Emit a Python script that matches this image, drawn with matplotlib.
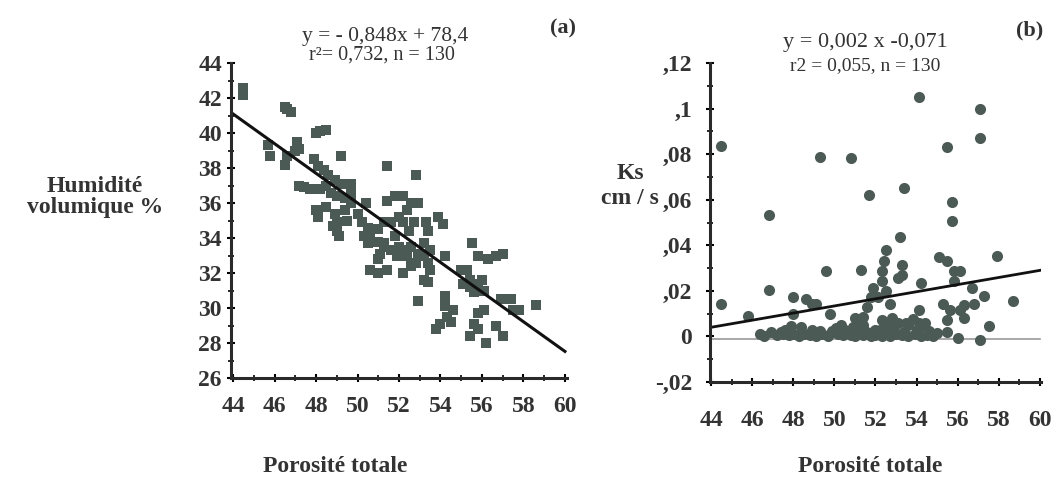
import matplotlib
matplotlib.use("Agg")
import matplotlib.pyplot as plt

plt.rcParams['font.family'] = ['Liberation Serif', 'DejaVu Serif']

# ---- panel (a): humidite volumique vs porosite totale
por_a = [44.5, 44.5, 46.5, 46.8, 46.6, 48.0, 48.5, 48.2, 47.1, 47.2, 45.8, 46.5, 46.6,
         49.2, 51.4, 52.8, 45.7, 47.0,
         47.9, 48.1, 48.4, 48.6, 48.9, 49.2, 49.7, 47.4, 47.7, 48.2, 48.7, 49.0, 49.4,
         49.7, 48.5, 48.9, 48.0, 48.1, 49.0, 49.0, 48.8, 49.5, 49.4, 49.1, 50.4, 47.2,
         49.7, 48.5, 50.0, 50.2,
         50.5, 50.3, 50.6, 51.0, 51.0, 51.3, 51.1, 51.6, 51.8, 51.9, 51.0, 50.6, 51.0,
         51.4, 51.3, 50.5, 51.4, 51.8, 52.2, 52.6, 52.9, 52.4, 52.0, 52.2, 52.5, 52.7,
         53.3, 53.4, 53.2, 53.5, 52.6, 52.4, 52.6, 52.2, 52.8, 52.9, 53.2, 53.4, 53.5,
         53.4, 53.9, 54.1, 54.2, 53.2, 51.6, 51.3, 52.0, 52.2,
         52.9, 54.2, 54.2, 54.3, 54.0, 53.8, 54.6, 54.5,
         55.5, 55.8, 56.3, 56.7, 57.0, 55.3, 55.4, 55.1, 55.4, 55.8, 56.0, 55.6, 56.1,
         55.8, 55.6, 55.4, 55.8, 56.1, 56.2, 56.7, 57.0, 56.9, 57.4, 57.5, 57.8, 58.6,
         55.0]
hum_a = [42.6, 42.2, 41.5, 41.2, 41.4, 40.0, 40.2, 40.1, 39.5, 39.1, 38.7, 38.2, 38.7,
         38.7, 38.1, 37.6, 39.3, 39.0,
         38.5, 38.1, 37.9, 37.6, 37.3, 37.1, 37.1, 36.9, 36.8, 36.8, 36.6, 36.4, 36.3,
         36.0, 35.8, 35.4, 35.6, 35.2, 34.9, 34.4, 34.7, 35.0, 35.6, 34.1, 36.0, 37.0,
         36.6, 37.0, 35.4, 34.9,
         34.6, 34.1, 34.3, 34.5, 33.8, 33.5, 33.1, 33.3, 34.1, 33.0, 32.8, 32.2, 32.0,
         32.2, 33.7, 33.7, 36.1, 36.4, 36.4, 36.0, 36.0, 35.6, 35.2, 34.9, 34.4, 34.9,
         34.9, 34.4, 33.7, 33.3, 33.5, 33.0, 32.4, 32.0, 32.6, 33.1, 33.0, 32.6, 32.2,
         31.5, 35.2, 34.8, 33.0, 31.6, 34.9, 34.9, 33.5, 33.3,
         30.4, 30.7, 30.1, 29.5, 29.1, 28.8, 29.9, 29.2,
         33.7, 33.0, 32.8, 33.0, 33.1, 32.2, 31.6, 31.4, 31.2, 31.4, 31.6, 30.9, 31.0,
         29.7, 29.1, 28.4, 28.8, 29.9, 28.0, 29.0, 28.4, 30.5, 30.5, 29.9, 29.9, 30.2,
         32.2]
fit_a_x = [44, 60]
fit_a_y = [-0.848 * x + 78.4 for x in fit_a_x]

# ---- panel (b): Ks vs porosite totale
por_b = [44.5, 44.5, 45.8, 46.8, 46.8, 48.0, 48.0, 49.3, 49.6, 50.8, 51.3, 51.7,
         53.2, 53.4, 53.3, 54.1, 54.2, 55.5, 55.7, 55.7, 57.1, 57.1, 57.9, 58.7,
         57.5, 57.3, 56.8, 56.7, 55.1, 55.5, 55.8, 56.1, 55.8, 55.3, 55.6, 56.1,
         56.3, 55.5, 55.5, 56.0, 57.1, 56.3,
         52.5, 52.4, 52.3, 52.3, 52.5, 52.7, 51.9, 51.8, 51.6, 51.4, 51.2, 52.1,
         53.1, 53.3, 54.1, 54.1, 48.6, 48.9, 49.1, 49.8, 51.0, 50.9,
         46.4, 46.6, 47.2, 47.5, 47.8, 48.0, 48.3, 48.5, 48.8, 49.1, 49.4, 49.7,
         50.2, 50.4, 50.6, 50.8, 51.0, 51.2, 51.4, 51.6, 51.8, 52.0, 52.3, 52.5,
         52.7, 53.0, 53.3, 53.6, 53.9, 54.2, 54.5, 54.8,
         47.9, 48.4, 50.3, 50.9, 51.4, 52.6, 53.0, 53.6, 54.2,
         52.3, 52.8, 53.1, 53.5, 53.8, 54.4, 52.0, 50.1, 49.9, 47.6, 48.9,
         50.0, 50.5, 51.5, 52.2, 53.4, 54.0, 54.6, 55.0, 46.9, 47.4, 49.3, 50.7,
         51.9, 52.9]
ks_b = [0.0836, 0.0143, 0.0089, 0.0531, 0.0204, 0.0174, 0.0100, 0.0786, 0.0289, 0.0783,
        0.0290, 0.0620, 0.0436, 0.0653, 0.0314, 0.1050, 0.0236, 0.0833, 0.0589, 0.0507,
        0.1000, 0.0871, 0.0353, 0.0157, 0.0046, 0.0179, 0.0143, 0.0214, 0.0350, 0.0329,
        0.0286, 0.0286, 0.0243, 0.0143, 0.0114, 0.0114, 0.0079, 0.0071, 0.0021, -0.0007,
        -0.0014, 0.0136,
        0.0379, 0.0329, 0.0286, 0.0243, 0.0200, 0.0143, 0.0214, 0.0171, 0.0129, 0.0086,
        0.0043, 0.0171, 0.0257, 0.0270, 0.0114, 0.0057, 0.0164, 0.0143, 0.0143, 0.0100,
        0.0080, 0.0021,
        0.0010, 0.0002, 0.0008, 0.0012, 0.0005, 0.0010, 0.0003, 0.0012, 0.0006, 0.0004,
        0.0010, 0.0002, 0.0012, 0.0005, 0.0015, 0.0008, 0.0003, 0.0012, 0.0006, 0.0010,
        0.0002, 0.0008, 0.0004, 0.0010, 0.0003, 0.0012, 0.0005, 0.0002, 0.0010, 0.0004,
        0.0008, 0.0002,
        0.0045, 0.0040, 0.0048, 0.0042, 0.0050, 0.0045, 0.0055, 0.0050, 0.0045,
        0.0070, 0.0080, 0.0057, 0.0057, 0.0075, 0.0060, 0.0030, 0.0035, 0.0025, 0.0030,
        0.0028, 0.0020, 0.0030, 0.0025, 0.0028, 0.0020, 0.0030, 0.0025, 0.0015, 0.0018,
        0.0020, 0.0022, 0.0018, 0.0020, 0.0025]
fit_b_x = [44, 60]
fit_b_y = [0.004, 0.029]
zero_x = [44, 60]
zero_y = [-0.001, -0.001]

x_ticks = [44, 46, 48, 50, 52, 54, 56, 58, 60]
y_ticks_a = [26, 28, 30, 32, 34, 36, 38, 40, 42, 44]
y_ticks_b = [-0.02, 0, 0.02, 0.04, 0.06, 0.08, 0.10, 0.12]
y_labels_b = ['-,02', '0', ',02', ',04', ',06', ',08', ',1', ',12']

mcol = '#4c5a56'
W, H = 1057, 482
fig = plt.figure(figsize=(W / 100, H / 100), dpi=100)


def style(ax):
    for s in ['top', 'right']:
        ax.spines[s].set_visible(False)
    for s in ['left', 'bottom']:
        ax.spines[s].set_linewidth(2.2)
        ax.spines[s].set_color('#2a2a2a')
    ax.tick_params(direction='inout', length=6, width=1.5, labelsize=17)
    ax.tick_params(which='minor', direction='inout', length=4, width=1.2)
    for lab in ax.get_xticklabels() + ax.get_yticklabels():
        lab.set_fontweight('bold')
        lab.set_color('#333333')


# panel (a)
ax1 = fig.add_axes([231 / W, (H - 378) / H, (567 - 231) / W, (378 - 63) / H])
ax1.plot(por_a, hum_a, 's', color=mcol, markersize=7, markeredgewidth=0)
ax1.plot(fit_a_x, fit_a_y, color='#111111', linewidth=2.2)
ax1.set_xlim(43.9, 60.1)
ax1.set_ylim(26, 44)
ax1.set_xticks(x_ticks)
ax1.set_yticks(y_ticks_a)
ax1.set_yticks(range(27, 44, 2), minor=True)
ax1.set_xticks(range(45, 60, 2), minor=True)
ax1.tick_params(axis='x', pad=10)
style(ax1)

# panel (b)
ax2 = fig.add_axes([710 / W, (H - 382) / H, (1041 - 710) / W, (382 - 63) / H])
ax2.plot(zero_x, zero_y, color='#9a9a9a', linewidth=1.2)
ax2.plot(por_b, ks_b, 'o', color=mcol, markersize=8, markeredgewidth=0)
ax2.plot(fit_b_x, fit_b_y, color='#111111', linewidth=2)
ax2.set_xlim(43.95, 60.05)
ax2.set_ylim(-0.02, 0.12)
ax2.set_xticks(x_ticks)
ax2.set_yticks(y_ticks_b)
ax2.set_yticklabels(y_labels_b)
ax2.set_yticks([-0.01, 0.01, 0.03, 0.05, 0.07, 0.09, 0.11], minor=True)
ax2.set_xticks(range(45, 60, 2), minor=True)
ax2.tick_params(axis='x', pad=17)
ax2.tick_params(axis='y', pad=10)
style(ax2)

# labels and annotations
bold = dict(fontweight='bold', color='#333333')
fig.text(335 / W, 1 - 467 / H, 'Porosité totale', ha='center', va='center', fontsize=17, **bold)
fig.text(870 / W, 1 - 467 / H, 'Porosité totale', ha='center', va='center', fontsize=17, **bold)
fig.text(95 / W, 1 - 197 / H, 'Humidité\nvolumique %', ha='center', va='center',
         fontsize=17, linespacing=1.0, **bold)
fig.text(630 / W, 1 - 186 / H, 'Ks\ncm / s', ha='center', va='center',
         fontsize=17, linespacing=1.2, **bold)
fig.text(385 / W, 1 - 36 / H, 'y = - 0,848x + 78,4', ha='center', va='center',
         fontsize=15.5, color='#333333')
fig.text(382 / W, 1 - 55 / H, 'r²= 0,732, n = 130', ha='center', va='center',
         fontsize=14.5, color='#333333')
fig.text(563 / W, 1 - 28 / H, '(a)', ha='center', va='center', fontsize=16, **bold)
fig.text(865 / W, 1 - 43 / H, 'y = 0,002 x -0,071', ha='center', va='center',
         fontsize=16, color='#333333')
fig.text(865 / W, 1 - 66 / H, 'r2 = 0,055, n = 130', ha='center', va='center',
         fontsize=14, color='#333333')
fig.text(1030 / W, 1 - 30 / H, '(b)', ha='center', va='center', fontsize=16, **bold)

fig.savefig('out.png', dpi=100)
